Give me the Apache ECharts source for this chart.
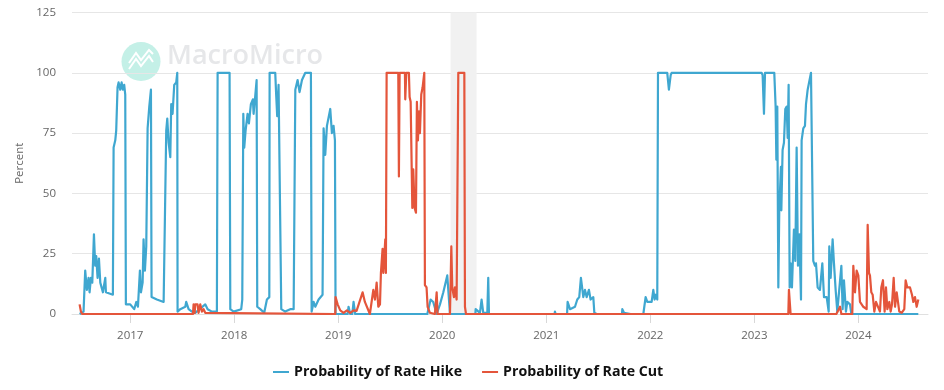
<!DOCTYPE html>
<html>
<head>
<meta charset="utf-8">
<script src="https://cdn.jsdelivr.net/npm/echarts@6/dist/echarts.min.js"></script>
<style>
  html, body { margin: 0; background: #fff; }
  #chart { width: 944px; height: 390px; }
</style>
</head>
<body>
<div id="chart"></div>
<script>
// x values are decimal years
const yearTicks = [2017, 2018, 2019, 2020, 2021, 2022, 2023, 2024]
const percentTicks = [0, 25, 50, 75, 100, 125]
const recession = [2020.08, 2020.33]

const hikeData = [
  [2016.513,0],[2016.551,1],[2016.567,18],[2016.583,10],[2016.599,15],[2016.609,9],[2016.622,15],[2016.635,13],
  [2016.651,33],[2016.663,20],[2016.673,24],[2016.686,15],[2016.699,23],[2016.712,13],[2016.737,9],[2016.76,15],
  [2016.766,9],[2016.833,8],[2016.84,69],[2016.856,72],[2016.865,76],[2016.878,94],[2016.888,96],[2016.904,93],
  [2016.917,96],[2016.929,93],[2016.942,95],[2016.952,91],[2016.958,4],[2017,4],[2017.038,2],[2017.058,5],
  [2017.074,3],[2017.093,18],[2017.103,9],[2017.119,13],[2017.128,31],[2017.141,18],[2017.154,28],[2017.167,77],
  [2017.183,86],[2017.199,93],[2017.205,7],[2017.256,6],[2017.321,5],[2017.34,5],[2017.346,76],[2017.356,81],
  [2017.369,71],[2017.385,65],[2017.394,87],[2017.407,83],[2017.423,95],[2017.442,96],[2017.452,100],[2017.455,1],
  [2017.481,2],[2017.529,3],[2017.538,5],[2017.561,2],[2017.593,1],[2017.625,0.5],[2017.721,4],[2017.744,2],
  [2017.785,1],[2017.833,1],[2017.84,100],[2017.955,100],[2017.962,2],[2017.994,1],[2018.01,1.5],[2018.067,2],
  [2018.077,6],[2018.087,83],[2018.096,69],[2018.109,76],[2018.128,83],[2018.141,79],[2018.16,87],[2018.179,89],
  [2018.186,83],[2018.199,89],[2018.215,97],[2018.221,3],[2018.25,2],[2018.288,0.5],[2018.314,6],[2018.337,7],
  [2018.34,100],[2018.394,100],[2018.404,90],[2018.413,82],[2018.426,95],[2018.445,95],[2018.452,2],[2018.49,1],
  [2018.538,2],[2018.571,2],[2018.587,93],[2018.609,97],[2018.628,92],[2018.651,97],[2018.683,100],[2018.737,100],
  [2018.744,1],[2018.763,5],[2018.779,3],[2018.811,6],[2018.849,8],[2018.859,77],[2018.875,66],[2018.891,78],
  [2018.923,85],[2018.939,75],[2018.955,78],[2018.968,72],[2018.974,0],[2019.09,0],[2019.099,3],[2019.115,0],
  [2019.135,0],[2019.147,5],[2019.163,0],[2019.856,0],[2019.888,6],[2019.913,5],[2019.946,0],[2019.978,4],
  [2020.01,9],[2020.048,16],[2020.074,0],[2020.318,0],[2020.321,2],[2020.362,0.5],[2020.378,6],[2020.394,0.5],
  [2020.433,0.5],[2020.442,15],[2020.449,0],[2021.08,0],[2021.083,1],[2021.09,0],[2021.2,0],[2021.205,5],
  [2021.228,2],[2021.276,3],[2021.298,6],[2021.317,7],[2021.333,15],[2021.356,7],[2021.372,10],[2021.388,7],
  [2021.41,10],[2021.426,6],[2021.452,7],[2021.462,0.5],[2021.484,0],[2021.728,0],[2021.731,2],[2021.747,0.5],
  [2021.811,0],[2021.933,0],[2021.955,7],[2021.971,5],[2022.013,5],[2022.029,10],[2022.042,6],[2022.054,8],
  [2022.067,6],[2022.074,100],[2022.163,100],[2022.179,93],[2022.196,99],[2022.205,100],[2023.071,100],[2023.08,99],
  [2023.093,83],[2023.103,100],[2023.192,100],[2023.205,86],[2023.212,64],[2023.221,86],[2023.231,11],[2023.24,43],
  [2023.256,61],[2023.26,43],[2023.272,68],[2023.285,71],[2023.298,85],[2023.311,86],[2023.321,73],[2023.33,95],
  [2023.34,11],[2023.349,21],[2023.362,11],[2023.381,35],[2023.394,22],[2023.407,69],[2023.42,20],[2023.433,33],
  [2023.449,6],[2023.455,72],[2023.471,77],[2023.487,78],[2023.497,87],[2023.513,93],[2023.529,93],[2023.545,100],
  [2023.564,100],[2023.567,22],[2023.583,20],[2023.593,21],[2023.609,11],[2023.631,10],[2023.654,21],[2023.67,7],
  [2023.696,7],[2023.715,1],[2023.721,28],[2023.734,15],[2023.753,31],[2023.766,21],[2023.782,10],[2023.798,1],
  [2023.837,20],[2023.849,2],[2023.862,14],[2023.881,1],[2023.894,5],[2023.92,4],[2023.933,0],[2024.577,0]
]

const cutData = [
  [2016.513,4],[2016.526,1],[2016.538,0],[2017.603,0],[2017.609,4],[2017.619,0.5],[2017.625,4],[2017.647,4],
  [2017.657,0.5],[2017.673,4],[2017.689,1],[2017.705,2],[2017.721,0.5],[2017.731,0],[2018.971,0],[2018.974,7],
  [2018.994,4],[2019.019,1.5],[2019.051,0.5],[2019.083,1.5],[2019.115,0.5],[2019.147,1.5],[2019.176,1.3],[2019.234,9],
  [2019.256,5],[2019.304,0],[2019.337,10],[2019.353,6],[2019.369,13],[2019.385,3],[2019.401,4],[2019.41,17],
  [2019.426,27],[2019.433,17],[2019.439,21],[2019.452,31],[2019.458,17],[2019.465,100],[2019.577,100],[2019.583,57],
  [2019.59,100],[2019.641,100],[2019.644,89],[2019.654,100],[2019.679,100],[2019.686,90],[2019.696,88],[2019.712,44],
  [2019.721,60],[2019.734,44],[2019.747,42],[2019.756,88],[2019.766,72],[2019.776,84],[2019.785,75],[2019.798,91],
  [2019.811,94],[2019.827,100],[2019.833,12],[2019.849,11],[2019.859,3],[2019.881,0.5],[2019.929,0],[2019.946,9],
  [2019.955,0],[2020.074,0],[2020.087,28],[2020.096,11],[2020.112,7],[2020.122,11],[2020.138,6],[2020.154,100],
  [2020.212,100],[2020.218,3],[2020.228,0],[2023.327,0],[2023.333,10],[2023.34,10],[2023.349,0],[2023.789,0],
  [2023.824,3],[2023.837,0],[2023.942,0],[2023.952,20],[2023.968,9],[2023.984,18],[2024,16],[2024.016,5],
  [2024.048,3],[2024.08,2],[2024.09,37],[2024.103,17],[2024.112,16],[2024.125,9],[2024.138,8],[2024.154,1],
  [2024.17,5],[2024.189,5],[2024.208,1],[2024.221,11],[2024.237,14],[2024.253,1],[2024.266,11],[2024.279,2],
  [2024.298,5],[2024.311,1],[2024.324,4],[2024.34,15],[2024.353,3],[2024.369,9],[2024.381,9],[2024.394,1],
  [2024.417,0.5],[2024.442,2],[2024.455,14],[2024.471,11],[2024.497,11],[2024.516,8],[2024.529,5],[2024.545,7],
  [2024.561,3],[2024.577,6]
]

const myChart = echarts.init(document.getElementById('chart'))
const option = {
  animation: false,
  backgroundColor: '#fff',
  textStyle: { fontFamily: 'Open Sans' },
  grid: { left: 72, right: 16, top: 12.5, bottom: 76 },
  legend: {
    data: ['Probability of Rate Hike', 'Probability of Rate Cut'],
    left: 268,
    top: 360,
    itemWidth: 16,
    itemHeight: 2,
    itemGap: 20,
    icon: 'rect',
    textStyle: { color: '#111', fontSize: 14.2, fontWeight: 700, fontFamily: 'Open Sans' },
  },
  xAxis: {
    type: 'value',
    min: 2016.44,
    max: 2024.67,
    splitLine: { show: false },
    axisLine: { show: true, lineStyle: { color: '#e0e0e0' } },
    axisTick: { show: true, length: 9, customValues: yearTicks, lineStyle: { color: '#d8d8d8' } },
    axisLabel: {
      customValues: yearTicks,
      color: '#666',
      fontSize: 11.5,
      margin: 16,
      formatter: v => String(v),
    },
  },
  yAxis: {
    type: 'value',
    name: 'Percent',
    nameLocation: 'middle',
    nameGap: 43,
    nameTextStyle: { color: '#666', fontSize: 11.5 },
    min: 0,
    max: 125,
    interval: 25,
    axisLine: { show: false },
    axisTick: { show: false },
    axisLabel: {
      color: '#666',
      fontSize: 11.5,
      margin: 16,
      padding: [2, 0, 0, 0],
      formatter: v => (percentTicks.includes(v) ? String(v) : ''),
    },
    splitLine: { lineStyle: { color: '#e6e6e6' } },
  },
  // logo watermark behind the lines
  graphic: [
    { type: 'circle', z: 0, shape: { cx: 141, cy: 61.5, r: 19.5 }, style: { fill: '#c4f0e7' } },
    {
      type: 'polyline', z: 0,
      shape: { points: [[129, 69], [136, 59], [141, 66], [149, 56], [153, 62]] },
      style: { stroke: '#fff', lineWidth: 2, fill: 'none' },
    },
    {
      type: 'polyline', z: 0,
      shape: { points: [[129, 63], [136, 53], [141, 60], [149, 50], [153, 54]] },
      style: { stroke: '#fff', lineWidth: 2, fill: 'none' },
    },
    {
      type: 'text', z: 0, left: 167, top: 43,
      style: { text: 'MacroMicro', fill: '#e6e7e9', font: '600 27px "Open Sans"' },
    },
  ],
  series: [
    {
      name: 'Probability of Rate Hike',
      type: 'line',
      data: hikeData,
      showSymbol: false,
      z: 3,
      lineStyle: { width: 2.2, color: '#3fa7d0', join: 'round' },
      itemStyle: { color: '#3fa7d0' },
      markArea: {
        silent: true,
        itemStyle: { color: '#f1f1f1' },
        data: [[{ xAxis: recession[0] }, { xAxis: recession[1] }]],
      },
    },
    {
      name: 'Probability of Rate Cut',
      type: 'line',
      data: cutData,
      showSymbol: false,
      z: 4,
      lineStyle: { width: 2.2, color: '#e4553b', join: 'round' },
      itemStyle: { color: '#e4553b' },
    },
  ],
}
myChart.setOption(option)
</script>
</body>
</html>
